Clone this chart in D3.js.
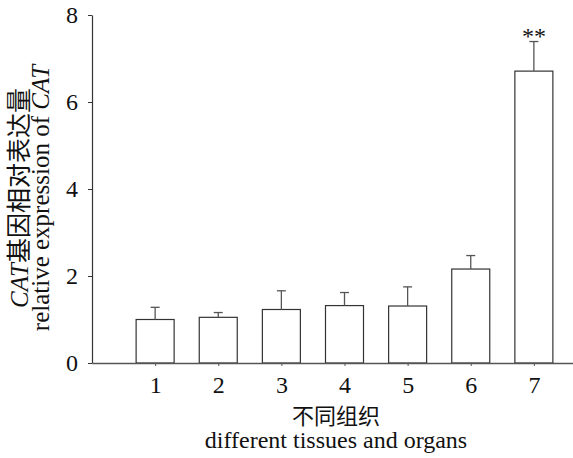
<!DOCTYPE html>
<html>
<head>
<meta charset="utf-8">
<script src="https://cdn.jsdelivr.net/npm/d3@7"></script>
<style>
  html, body { margin: 0; padding: 0; background: #fff; }
  svg { display: block; }
  text { font-family: "Liberation Serif", "Times New Roman", serif; fill: #111; }
  .cjk { font-family: "Noto Sans CJK SC", sans-serif; }
</style>
</head>
<body>
<svg id="chart" width="573" height="458"></svg>
<script>
// ---- data ----
const categories = [1, 2, 3, 4, 5, 6, 7];
const values = [1.00, 1.05, 1.23, 1.32, 1.31, 2.16, 6.71];
const errors = [0.28, 0.11, 0.43, 0.30, 0.44, 0.31, 0.68];
const significance = ["", "", "", "", "", "", "**"];
const yTicks = [0, 2, 4, 6, 8];
const yLabelCN = "基因相对表达量";
const yLabelEN = "relative expression of ";
const geneName = "CAT";
const xLabelCN = "不同组织";
const xLabelEN = "different tissues and organs";

// ---- layout ----
const svg = d3.select("#chart");
const x = d3.scaleLinear().domain([0, 8]).range([92, 597]);
const y = d3.scaleLinear().domain([0, 8]).range([363, 15]);
const barW = 38;

// bars
svg.append("g").selectAll("rect")
  .data(categories)
  .join("rect")
  .attr("x", (d) => x(d) - barW / 2)
  .attr("y", (d, i) => y(values[i]))
  .attr("width", barW)
  .attr("height", (d, i) => y(0) - y(values[i]))
  .attr("fill", "#fff")
  .attr("stroke", "#333")
  .attr("stroke-width", 1.2);

// error bars
const eb = svg.append("g").attr("stroke", "#555").attr("stroke-width", 1.3);
eb.selectAll("line.stem")
  .data(categories)
  .join("line")
  .attr("class", "stem")
  .attr("x1", (d) => x(d)).attr("x2", (d) => x(d))
  .attr("y1", (d, i) => y(values[i]))
  .attr("y2", (d, i) => y(values[i] + errors[i]));
eb.selectAll("line.cap")
  .data(categories)
  .join("line")
  .attr("class", "cap")
  .attr("x1", (d) => x(d) - 4.5).attr("x2", (d) => x(d) + 4.5)
  .attr("y1", (d, i) => y(values[i] + errors[i]))
  .attr("y2", (d, i) => y(values[i] + errors[i]));

// significance
svg.append("g").selectAll("text")
  .data(categories)
  .join("text")
  .attr("x", (d) => x(d))
  .attr("y", (d, i) => y(values[i] + errors[i]) + 2)
  .attr("text-anchor", "middle")
  .attr("font-size", 24)
  .text((d, i) => significance[i]);

// axes
const xAxis = d3.axisBottom(x).tickValues(categories).tickSize(3).tickSizeOuter(0).tickPadding(10);
const gx = svg.append("g").attr("transform", `translate(0,${y(0)})`).call(xAxis);
gx.select(".domain").attr("stroke", "#555").attr("stroke-width", 1.3);
gx.selectAll(".tick line").attr("stroke", "#555");
gx.selectAll(".tick text").attr("font-size", 24).attr("font-family", "Liberation Serif").attr("fill", "#111");

const yAxis = d3.axisLeft(y).tickValues(yTicks).tickSize(4).tickSizeOuter(0).tickPadding(10);
const gy = svg.append("g").attr("transform", `translate(${x(0)},0)`).call(yAxis);
gy.select(".domain").attr("stroke", "#333").attr("stroke-width", 1.2);
gy.selectAll(".tick line").attr("stroke", "#333");
gy.selectAll(".tick text").attr("font-size", 24).attr("font-family", "Liberation Serif").attr("fill", "#111");

// y label
const ymid = 198;
const yl1 = svg.append("text")
  .attr("transform", `translate(28,${ymid}) rotate(-90)`)
  .attr("text-anchor", "middle")
  .attr("font-size", 25);
yl1.append("tspan").attr("font-style", "italic").text(geneName);
yl1.append("tspan").attr("class", "cjk").attr("font-size", 25).text(yLabelCN);

const yl2 = svg.append("text")
  .attr("transform", `translate(49,${ymid}) rotate(-90)`)
  .attr("text-anchor", "middle")
  .attr("font-size", 25);
yl2.append("tspan").text(yLabelEN);
yl2.append("tspan").attr("font-style", "italic").text(geneName);

// x label
const xmid = 336;
svg.append("text")
  .attr("class", "cjk")
  .attr("x", xmid).attr("y", 424)
  .attr("text-anchor", "middle")
  .attr("font-size", 22)
  .text(xLabelCN);
svg.append("text")
  .attr("x", xmid).attr("y", 448)
  .attr("text-anchor", "middle")
  .attr("font-size", 24)
  .text(xLabelEN);
</script>
</body>
</html>
